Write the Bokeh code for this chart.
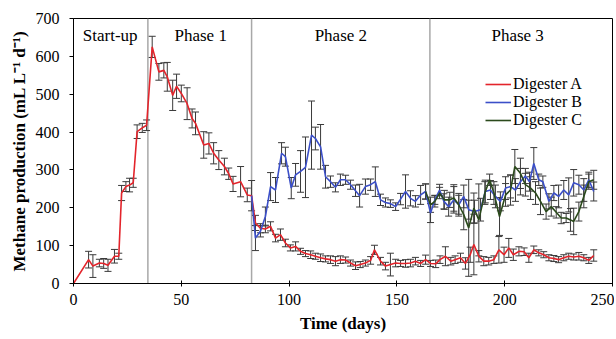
from bokeh.plotting import figure
from bokeh.models import ColumnDataSource, Whisker, TeeHead, Span, Range1d, Label, FixedTicker
from bokeh.embed import file_html
from bokeh.resources import INLINE

# ---------------- data ----------------
a_day = [0, 7, 9, 12, 14, 16, 19, 21, 22.3, 24.3, 26, 27.7, 29.5, 31.9, 33.9,
         36.5, 39.6, 41.9, 43.5, 46, 47.8, 50, 52.7, 55, 56.6, 60.4, 62.8, 65, 67.4, 70, 72,
         74, 77.5, 80.6, 82.6,
         84.4, 86.7, 89, 91.4, 93.7, 96, 98.3, 100.6, 103, 105.3, 107.6, 110, 112.2, 114.6,
         116.9, 119.2, 121.5, 123.8, 126.2, 128.5, 130.8, 133, 135.4, 137.8, 139.6, 142.4,
         144.7, 147, 149.4, 151.7, 154, 156.3, 158.6, 161, 163.3, 165.6, 168, 170, 172.5,
         175, 177, 179.5, 181.8, 184, 185.7, 188, 190.3, 192.6, 195, 197.3, 199.7, 201.9,
         204, 206.6, 209, 211.2, 213.5, 215.8, 218.1, 220.5, 222.8, 225, 227.4, 229.7, 232,
         234.4, 236.7, 239, 241.3]
a_val = [0, 63, 46, 54, 53, 48, 72, 72, 239, 256, 260, 266, 401, 411, 418,
         625, 559, 563, 546, 497, 521, 502, 475, 436, 423, 366, 370, 344, 326, 309, 290,
         263, 269, 234, 232,
         160, 146, 144, 151, 120, 129, 107, 94, 98, 85, 79, 76, 72, 68,
         65, 63, 59, 63, 62, 54, 47, 50, 54, 61, 89, 59,
         46, 50, 54, 53, 53, 54, 59, 53, 63, 53, 52, 63, 72,
         59, 63, 68, 53, 76, 103, 72, 59, 59, 63, 89, 76, 94,
         76, 85, 84, 68, 89, 81, 76, 68, 66, 63, 68, 72, 70,
         72, 68, 61, 74]
a_err = [0, 22, 30, 10, 13, 16, 18, 8, 20, 13, 18, 12, 18, 12, 14,
         28, 22, 20, 38, 40, 32, 22, 42, 25, 30, 35, 28, 28, 25, 22, 15,
         20, 40, 18, 40,
         20, 12, 10, 12, 10, 15, 10, 8, 12, 8, 8, 10, 8, 10,
         8, 10, 12, 10, 8, 8, 10, 8, 8, 10, 12, 10,
         10, 30, 10, 8, 10, 10, 10, 8, 12, 8, 10, 10, 25,
         10, 10, 12, 15, 20, 80, 15, 12, 10, 10, 35, 20, 25,
         15, 12, 10, 12, 10, 8, 8, 8, 8, 8, 8, 8, 8,
         10, 8, 8, 15]

b_day = [82.6, 84.4, 86.7, 89, 91.4, 93.7, 96.5, 98.3, 101, 103, 105.3, 107.6, 110.4,
         112.2, 114.6, 116.9, 119.2, 121.5, 123.8, 126.2, 128.5, 130.8, 132.7, 135.4,
         137.8, 140, 142.4, 144.7, 147, 149.4, 151.7, 154, 156.3, 158.6, 161, 163.3,
         165.6, 167.6, 169.8, 171.8, 174, 176.4, 178.7, 181, 183.3, 186, 188.8, 191,
         193.4, 195.7, 198, 200.4, 202.7, 205, 207.3, 209.6, 211.5, 213.5, 215.8, 217.7,
         220.5, 222.8, 225, 227.4, 229.7, 232, 234.4, 236.7, 239, 241.3]
b_val = [232, 120, 138, 177, 256, 247, 344, 335, 252, 287, 296, 307, 392,
         383, 361, 282, 269, 254, 274, 274, 261, 245, 232, 256,
         261, 269, 221, 214, 211, 203, 223, 243, 225, 217, 234, 243,
         186, 221, 247, 217, 203, 221, 208, 230, 195, 190, 195, 243,
         247, 230, 217, 252, 256, 247, 269, 284, 269, 317, 274, 269,
         217, 239, 230, 247, 234, 266, 261, 247, 274, 243]
b_err = [0, 33, 15, 25, 37, 33, 28, 25, 28, 30, 55, 80, 90,
         30, 59, 30, 15, 12, 15, 12, 12, 15, 30, 20,
         15, 39, 15, 12, 10, 10, 15, 44, 20, 15, 25, 20,
         25, 12, 15, 20, 25, 35, 25, 30, 25, 30, 30, 30,
         25, 30, 25, 30, 30, 30, 35, 20, 25, 42, 15, 15,
         20, 20, 30, 25, 45, 35, 25, 30, 20, 25]

c_day = [163.3, 165.6, 167.6, 169.8, 172, 174.5, 176.4, 178.7, 181, 183.3, 185.7, 188,
         190.8, 193, 195, 197.6, 200.4, 202.7, 204.7, 207.3, 209.6, 212, 214.3, 216.6,
         219.2, 221.6, 223.9, 226.2, 228.5, 230.5, 232, 234.4, 236.7, 239, 241.3]
c_val = [243, 208, 217, 239, 221, 221, 226, 208, 182, 147, 199, 168,
         239, 274, 239, 177, 234, 247, 309, 291, 261, 252, 239, 217,
         190, 203, 188, 173, 173, 168, 164, 190, 230, 269, 274]
c_err = [20, 20, 15, 15, 25, 20, 35, 30, 40, 128, 40, 95,
         30, 15, 30, 50, 30, 40, 45, 40, 30, 30, 30, 35,
         20, 25, 15, 15, 12, 30, 35, 25, 30, 20, 25]

phase_bounds = [34.5, 82.6, 165.3]
phase_names = ["Start-up", "Phase 1", "Phase 2", "Phase 3"]
phase_mid = [17, 59, 124, 206]
phase_y = 655

x_ticks = [0, 50, 100, 150, 200, 250]
y_ticks = [0, 100, 200, 300, 400, 500, 600, 700]

series = [
    ("Digester A", a_day, a_val, a_err, "#e3242b"),
    ("Digester B", b_day, b_val, b_err, "#3b4fc8"),
    ("Digester C", c_day, c_val, c_err, "#2b4a1c"),
]

SERIF = "Liberation Serif"

p = figure(width=614, height=335, output_backend="svg", toolbar_location=None,
           x_range=Range1d(0, 250), y_range=Range1d(0, 700),
           min_border_left=73, min_border_right=2, min_border_top=18,
           min_border_bottom=51)
p.background_fill_color = "white"
p.border_fill_color = "white"
p.outline_line_color = "black"
p.outline_line_width = 1
p.xgrid.visible = False
p.ygrid.visible = False

for ax in (p.xaxis[0], p.yaxis[0]):
    ax.axis_line_color = "black"
    ax.major_tick_line_color = "black"
    ax.minor_tick_line_color = None
    ax.major_label_text_font = SERIF
    ax.major_label_text_font_size = "16px"
    ax.major_label_text_color = "black"
    ax.axis_label_text_font = SERIF
    ax.axis_label_text_font_size = "17px"
    ax.axis_label_text_font_style = "bold"
    ax.axis_label_text_color = "black"

p.xaxis.ticker = FixedTicker(ticks=x_ticks)
p.yaxis.ticker = FixedTicker(ticks=y_ticks)
p.xaxis.major_tick_in = 3
p.xaxis.major_tick_out = 3
p.yaxis.major_tick_in = 0
p.yaxis.major_tick_out = 4
p.xaxis.major_label_standoff = 7
p.xaxis.axis_label_standoff = 6
p.yaxis.major_label_standoff = 10
p.yaxis.axis_label_standoff = 4
p.xaxis.axis_label = "Time (days)"
p.yaxis.axis_label = "Methane production (mL L\u207b\u00b9 d\u207b\u00b9)"

for b in phase_bounds:
    p.add_layout(Span(location=b, dimension="height", line_color="#a8a8a8",
                      line_width=1.5, level="underlay"))

for name, xm in zip(phase_names, phase_mid):
    p.add_layout(Label(x=xm, y=phase_y, text=name, text_align="center",
                       text_baseline="middle", text_font=SERIF,
                       text_font_size="17px", text_color="black"))

for name, d, v, e, col in series:
    xs = [x for x, er in zip(d, e) if er > 0]
    up = [y + er for y, er in zip(v, e) if er > 0]
    lo = [y - er for y, er in zip(v, e) if er > 0]
    src = ColumnDataSource(dict(x=xs, upper=up, lower=lo))
    w = Whisker(source=src, base="x", upper="upper", lower="lower",
                dimension="height", line_color="#3a3a3a", line_width=1,
                upper_head=TeeHead(size=7, line_color="#3a3a3a", line_width=1),
                lower_head=TeeHead(size=7, line_color="#3a3a3a", line_width=1))
    p.add_layout(w)

for name, d, v, e, col in series:
    p.line(d, v, line_color=col, line_width=1.6, legend_label=name)

lg = p.legend[0]
lg.location = (412, 154)
lg.background_fill_alpha = 0
lg.border_line_color = None
lg.label_text_font = SERIF
lg.label_text_font_size = "16px"
lg.label_text_color = "black"
lg.label_text_line_height = 1.0
lg.label_height = 16
lg.glyph_height = 16
lg.glyph_width = 26
lg.label_standoff = 2
lg.spacing = 0
lg.padding = 0
lg.margin = 0

open("out.html", "w").write(file_html(p, INLINE))
